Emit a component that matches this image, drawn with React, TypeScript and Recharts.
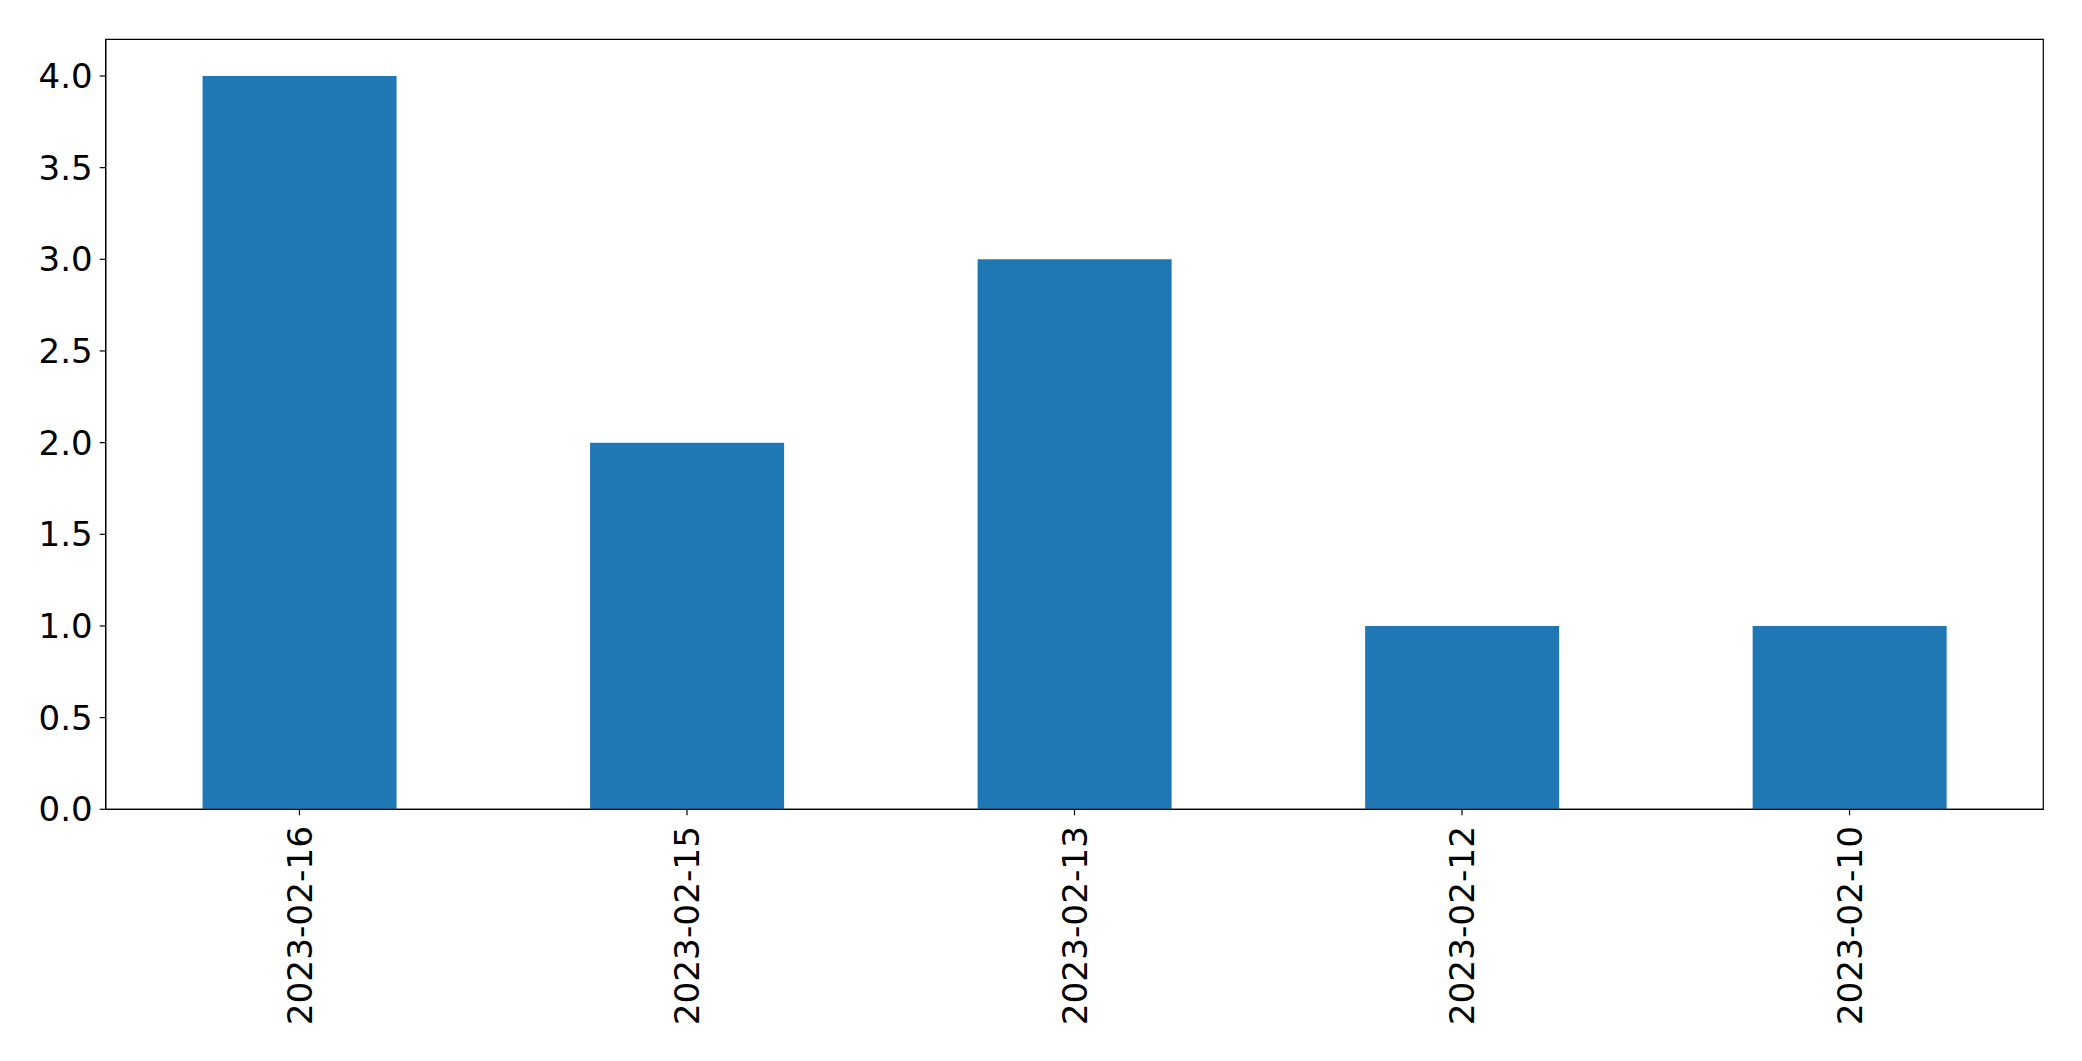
import React from "react";
import { BarChart, Bar, XAxis, YAxis, ReferenceArea } from "recharts";

const dates = ["2023-02-16", "2023-02-15", "2023-02-13", "2023-02-12", "2023-02-10"];
const counts = [4, 2, 3, 1, 1];
const yTicks = [0, 0.5, 1, 1.5, 2, 2.5, 3, 3.5, 4];
const yMax = 4.2;

const data = dates.map((d, i) => ({ date: d, count: counts[i] }));

const FONT = "'DejaVu Sans', sans-serif";

function DateTick({ x, y, payload }: any) {
  return (
    <text
      x={x}
      y={y}
      transform={`rotate(-90, ${x}, ${y})`}
      textAnchor="end"
      dy="0.36em"
      fontSize={34.3}
      fontFamily={FONT}
      fill="#000"
    >
      {payload.value}
    </text>
  );
}

export default function App() {
  return (
    <div style={{ position: "absolute", left: 0, top: 0, background: "#fff" }}>
      <BarChart
        width={2082}
        height={1061}
        data={data}
        margin={{ top: 39.3, right: 38.7, bottom: 11.7, left: 5.7 }}
        barCategoryGap="25%"
      >
        <XAxis
          dataKey="date"
          height={240}
          tick={<DateTick />}
          tickSize={6}
          tickMargin={10.7}
          interval={0}
          stroke="#000"
          axisLine={{ stroke: "#000", strokeWidth: 1.2 }}
          tickLine={{ stroke: "#000", strokeWidth: 1.2 }}
        />
        <YAxis
          domain={[0, yMax]}
          ticks={yTicks}
          width={100}
          tickSize={6}
          tickMargin={7}
          tickFormatter={(v: number) => v.toFixed(1)}
          tick={{ fontSize: 34, fontFamily: FONT, fill: "#000" }}
          axisLine={{ stroke: "#000", strokeWidth: 1.2 }}
          tickLine={{ stroke: "#000", strokeWidth: 1.2 }}
          allowDataOverflow
        />
        <Bar dataKey="count" fill="#1f77b4" isAnimationActive={false} />
        {/* frame around the plot area, like matplotlib's spines */}
        <ReferenceArea
          x1={dates[0]}
          x2={dates[dates.length - 1]}
          y1={0}
          y2={yMax}
          fill="none"
          fillOpacity={0}
          stroke="#000"
          strokeWidth={1.2}
          ifOverflow="visible"
        />
      </BarChart>
    </div>
  );
}
